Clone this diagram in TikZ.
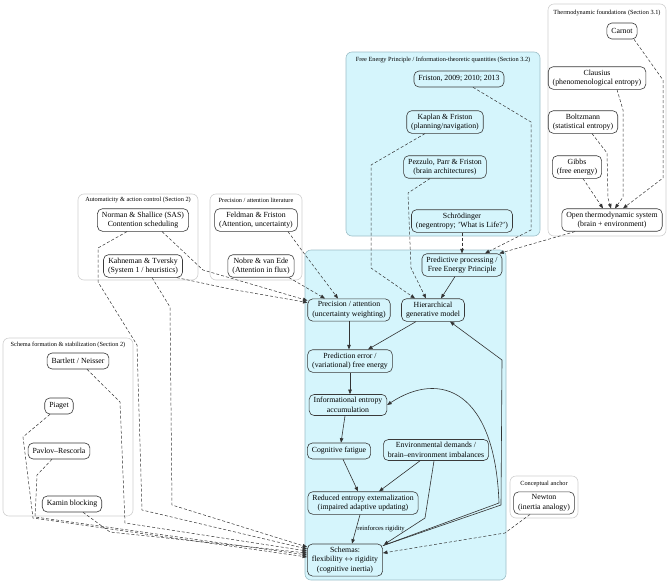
\documentclass[tikz,border=0pt]{standalone}
\usepackage{fontspec}
\setmainfont{Liberation Serif}
\usetikzlibrary{arrows.meta,calc}
\definecolor{cyanfill}{HTML}{D5F5FC}
\definecolor{cyanborder}{HTML}{9DBFC8}
\definecolor{grayborder}{HTML}{D0D0D0}
\definecolor{nodeborder}{HTML}{3A3A3A}
\definecolor{edgecol}{HTML}{333333}
\begin{document}
\begin{tikzpicture}[x=1pt,y=-1pt,
  box/.style={draw=nodeborder, rounded corners=5pt, line width=0.6pt, align=center,
    inner xsep=4.5pt, inner ysep=3pt, minimum height=16pt,
    font=\fontsize{7.8}{9.5}\selectfont, text=black},
  ctitle/.style={font=\fontsize{6.3}{7.5}\selectfont, text=black, inner sep=0pt},
  lbl/.style={font=\fontsize{6.6}{8}\selectfont, text=black, inner sep=1pt},
  clcyan/.style={draw=cyanborder, fill=cyanfill, rounded corners=6pt, line width=0.6pt},
  clgray/.style={draw=grayborder, fill=white, rounded corners=6pt, line width=0.6pt},
  dep/.style={draw=edgecol, line width=0.5pt, dash pattern=on 3pt off 2pt,
    -{Triangle[length=4.5pt,width=3.5pt]}},
  sol/.style={draw=edgecol, line width=0.6pt, -{Triangle[length=4.5pt,width=3.5pt]}}
]
\useasboundingbox (0,0) rectangle (669,584);

% clusters
\draw[clgray] (548,4) rectangle (666,236);
\draw[clcyan] (346,52) rectangle (540,236);
\draw[clcyan] (305,250) rectangle (506,580);
\draw[clgray] (78,194) rectangle (198,280);
\draw[clgray] (210,194) rectangle (302,280);
\draw[clgray] (3,338) rectangle (133,516);
\draw[clgray] (510,476) rectangle (578,518);

% cluster titles
\node[ctitle] (tthermo) at (607,13) {Thermodynamic foundations (Section 3.1)};
\node[ctitle] (tfep) at (443,60) {Free Energy Principle / Information-theoretic quantities (Section 3.2)};
\node[ctitle] (tauto) at (138,200) {Automaticity \& action control (Section 2)};
\node[ctitle] (tprec) at (256,200) {Precision / attention literature};
\node[ctitle] (tschema) at (68,345) {Schema formation \& stabilization (Section 2)};
\node[ctitle] (tanchor) at (544,484) {Conceptual anchor};

% thermodynamic nodes
\node[box] (carnot) at (622,31) {Carnot};
\node[box] (clausius) at (597,78) {Clausius\\(phenomenological entropy)};
\node[box] (boltz) at (583,122) {Boltzmann\\(statistical entropy)};
\node[box] (gibbs) at (577,167) {Gibbs\\(free energy)};
\node[box] (open) at (612,220) {Open thermodynamic system\\(brain + environment)};

% FEP nodes
\node[box] (friston) at (459,79) {Friston, 2009; 2010; 2013};
\node[box] (kaplan) at (445,122) {Kaplan \& Friston\\(planning/navigation)};
\node[box] (pezzulo) at (445,167) {Pezzulo, Parr \& Friston\\(brain architectures)};
\node[box] (schrod) at (462,221) {Schrödinger\\(negentropy; 'What is Life?')};

% main nodes
\node[box] (pp) at (462,265) {Predictive processing /\\Free Energy Principle};
\node[box] (hgm) at (433,310) {Hierarchical\\generative model};
\node[box] (prec) at (349,310) {Precision / attention\\(uncertainty weighting)};
\node[box] (pe) at (350,361) {Prediction error /\\(variational) free energy};
\node[box] (iea) at (348,405) {Informational entropy\\accumulation};
\node[box] (cf) at (339,451) {Cognitive fatigue};
\node[box] (env) at (436,450) {Environmental demands /\\brain–environment imbalances};
\node[box] (ree) at (363,503) {Reduced entropy externalization\\(impaired adaptive updating)};
\node[box] (sch) at (345,560) {Schemas:\\flexibility $\leftrightarrow$ rigidity\\(cognitive inertia)};

% left clusters
\node[box] (norman) at (143,220) {Norman \& Shallice (SAS)\\Contention scheduling};
\node[box] (kahneman) at (143,266) {Kahneman \& Tversky\\(System 1 / heuristics)};
\node[box] (feldman) at (256,220) {Feldman \& Friston\\(Attention, uncertainty)};
\node[box] (nobre) at (261,266) {Nobre \& van Ede\\(Attention in flux)};
\node[box] (bartlett) at (78,361) {Bartlett / Neisser};
\node[box] (piaget) at (59,406) {Piaget};
\node[box] (pavlov) at (59,451) {Pavlov–Rescorla};
\node[box] (kamin) at (72,504) {Kamin blocking};
\node[box] (newton) at (544,503) {Newton\\(inertia analogy)};

% dashed edges: FEP / thermo
\draw[dep] ($(friston.south)+(14,0)$) -- (531,122) -- (531,230) -- ($(pp.north)+(23,0)$);
\draw[dep] (schrod.south) -- (pp.north);
\draw[dep] ($(open.south)+(-37,0)$) -- ($(pp.north east)+(-3,0)$);
\draw[dep] ($(kaplan.south)+(-20,0)$) -- (371,165) -- (371,268) -- ($(hgm.north)+(-18,0)$);
\draw[dep] ($(pezzulo.south)+(-15,0)$) -- (408,193) -- (411,268) -- ($(hgm.north)+(-7,0)$);
\draw[dep] ($(carnot.south)+(12,0)$) -- (663,80) -- (663,178) -- ($(open.north)+(11,0)$);
\draw[dep] ($(clausius.south)+(20,0)$) -- (623,110) -- (623,197) -- ($(open.north)+(3,0)$);
\draw[dep] ($(boltz.south)+(9,0)$) -- (607,153) -- (608,198) -- ($(open.north)+(-1,0)$);
\draw[dep] ($(gibbs.south)+(6,0)$) -- ($(open.north)+(-9,0)$);

% dashed edges: left
\draw[dep] ($(norman.south)+(19,0)$) -- (203,270) -- ($(prec.north west)+(0,2)$);
\draw[dep] ($(kahneman.south east)+(-6,0)$) -- (230,289) -- ($(prec.north west)+(0,4)$);
\draw[dep] ($(feldman.south)+(32,0)$) -- (303,252) -- ($(prec.north)+(-11,0)$);
\draw[dep] ($(nobre.south)+(28,0)$) -- ($(prec.north)+(-24,0)$);
\draw[dep] ($(kahneman.south)+(9,0)$) -- (170,307) -- (172,505) -- ($(sch.west)+(0,-13)$);
\draw[dep] ($(norman.south)+(-16,0)$) -- (98,248) -- (98,282) -- (137,345) -- (142,510) -- ($(sch.west)+(0,-11)$);
\draw[dep] ($(bartlett.south)+(9,0)$) -- (120,402) -- (125,523) -- ($(sch.west)+(0,-9)$);
\draw[dep] ($(kamin.south)+(11,0)$) -- (110,532) -- ($(sch.west)+(0,-7)$);
\draw[dep] ($(pavlov.south)+(-7,0)$) -- (37,475) -- (35,517) -- ($(sch.west)+(0,-5)$);
\draw[dep] ($(piaget.south)+(-9,0)$) -- (23,437) -- (33,518) -- ($(sch.west)+(0,-3)$);
\draw[dep] ($(newton.south)+(-14,0)$) -- (505,533) -- ($(sch.east)+(0,-7)$);

% solid edges
\draw[sol] ($(pp.south)+(-7,0)$) -- ($(hgm.north)+(8,0)$);
\draw[sol] ($(hgm.south)+(-17,0)$) -- ($(pe.north)+(18,0)$);
\draw[sol] (prec.south) -- (prec.south |- pe.north);
\draw[sol] (pe.south) -- (pe.south |- iea.north);
\draw[sol] ($(iea.south)+(-3,0)$) -- ($(cf.north)+(2,0)$);
\draw[sol] ($(cf.south)+(4,0)$) -- ($(ree.north)+(-5,0)$);
\draw[sol] ($(env.south)+(-16,0)$) -- ($(ree.north)+(16,0)$);
\draw[sol] ($(env.south)+(-2,0)$) -- (425,518) -- ($(sch.north east)+(1,1)$);
\draw[sol] ($(ree.south)+(-3,0)$) -- node[lbl, right] {reinforces rigidity} ($(sch.north)+(7,0)$);
\draw[sol] ($(sch.north east)+(0,2)$) -- (501,505) -- (502,360) -- ($(hgm.south)+(17,0)$);
\draw[sol] ($(sch.north east)+(0,2)$) -- (499,503) .. controls (495,390) and (440,370) .. (iea.east);
\end{tikzpicture}
\end{document}
